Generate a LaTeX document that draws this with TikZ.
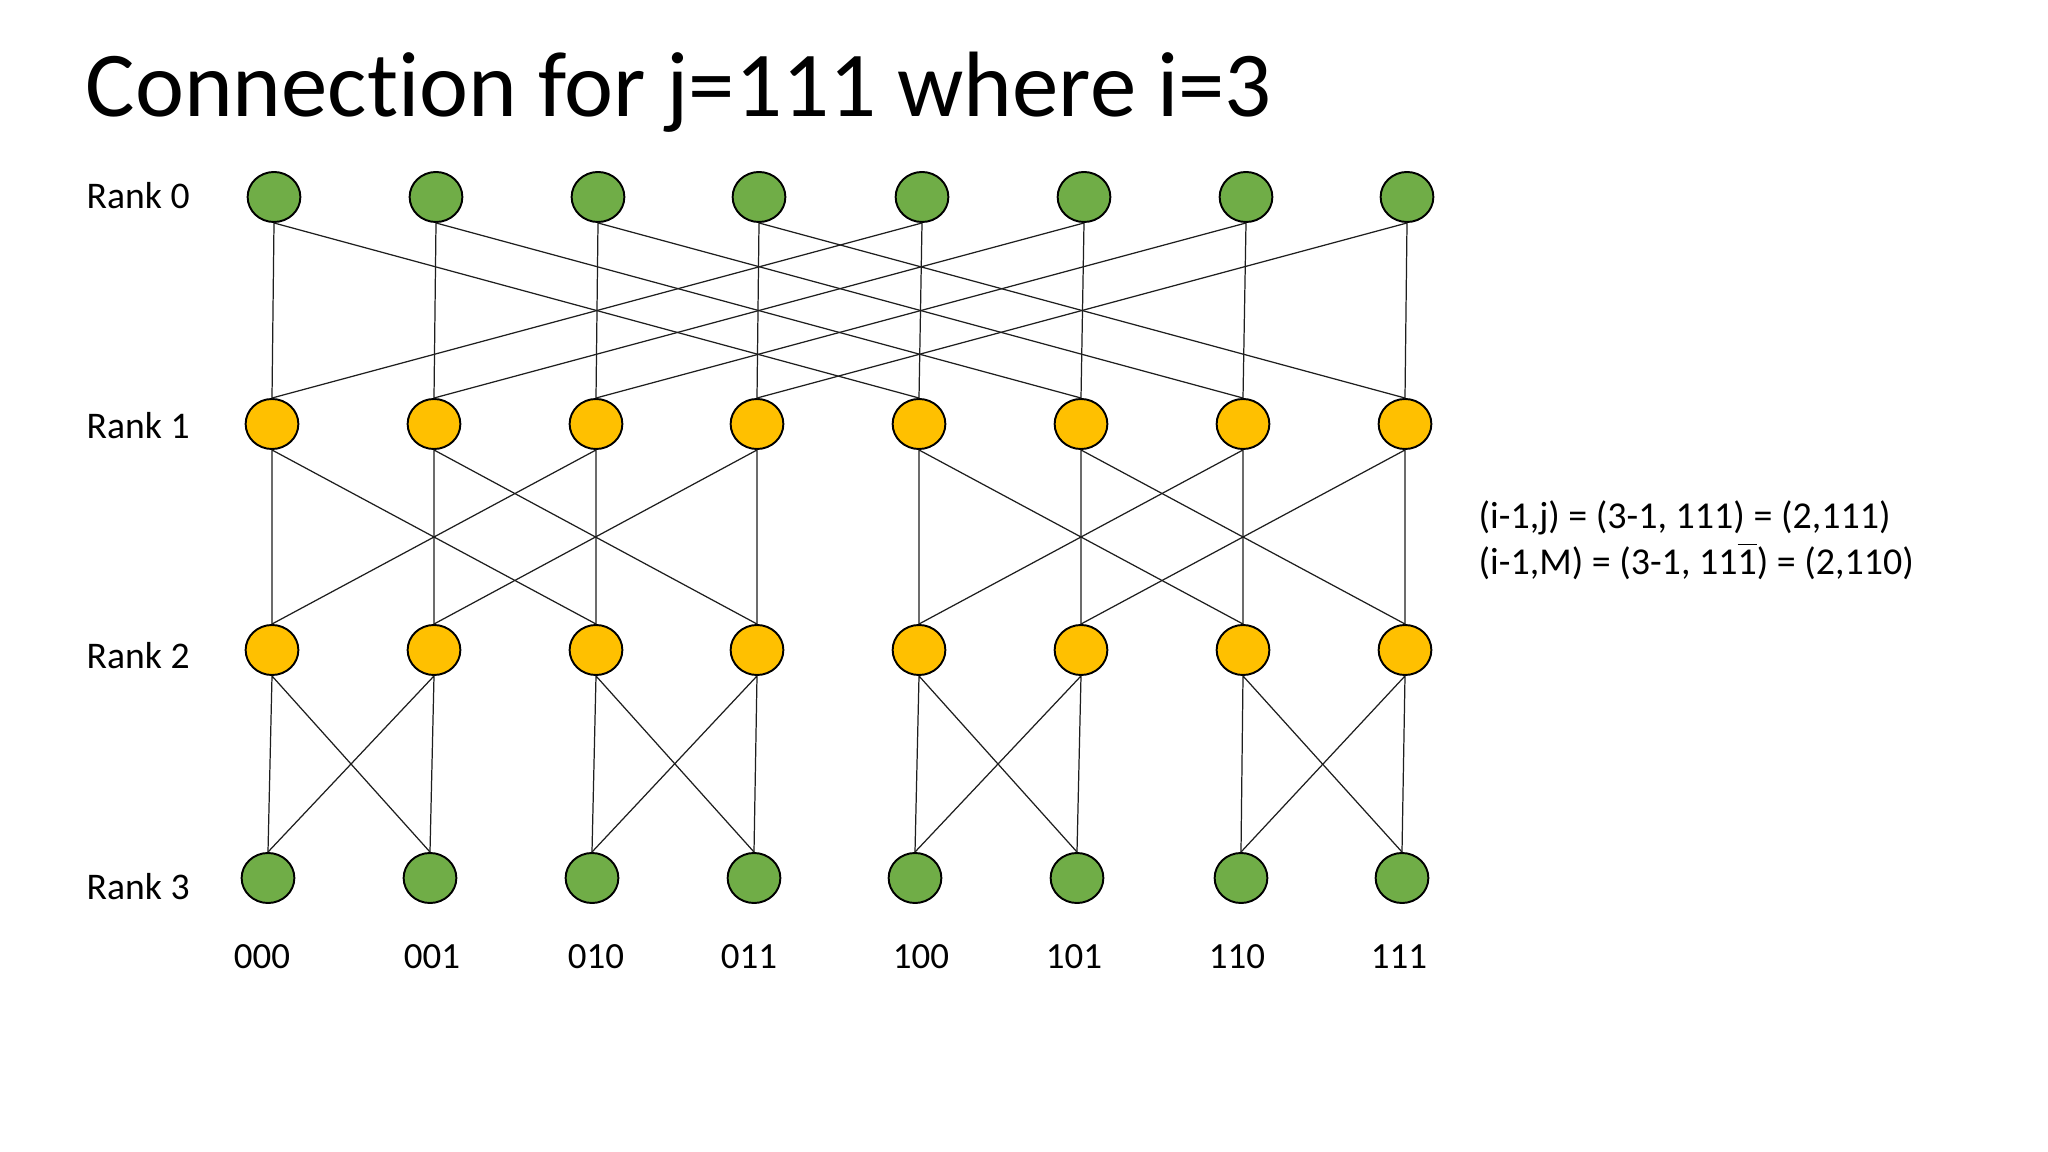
\documentclass[tikz,border=0pt]{standalone}
\usepackage{fontspec}
\setmainfont{Carlito}[Ligatures=NoCommon]
\usetikzlibrary{positioning,shapes.geometric}
\definecolor{rankgreen}{RGB}{112,173,71}
\definecolor{rankgold}{RGB}{255,192,0}
\definecolor{linkgray}{RGB}{30,30,30}
\tikzset{
  procnode/.style={ellipse,draw=black,line width=0.55pt,
    minimum width=0.527cm,minimum height=0.50cm,inner sep=0pt},
  greennode/.style={procnode,fill=rankgreen},
  goldnode/.style={procnode,fill=rankgold},
  link/.style={linkgray,line width=0.35pt},
  ranklabel/.style={anchor=base west,inner sep=0pt,font=\fontsize{10.7}{12}\selectfont},
  binlabel/.style={anchor=base,inner sep=0pt,font=\fontsize{10.5}{12}\selectfont},
  eqlabel/.style={anchor=base west,inner sep=0pt,font=\fontsize{10.8}{12}\selectfont}
}

\begin{document}
\begin{tikzpicture}[x=0.01cm,y=-0.01cm]
        \fill[white] (0,0) rectangle (2048,1152);
        \useasboundingbox (0,0) rectangle (2048,1152);

        \node[anchor=base west,inner sep=0pt,font=\fontsize{26.4}{30}\selectfont]
          (title) at (85,117) {Connection for j=111 where i=3};

        % ranks
        \node[ranklabel] (lab0) at (86,209) {Rank 0};
        \node[ranklabel] (lab1) at (86,439) {Rank 1};
        \node[ranklabel] (lab2) at (86,669) {Rank 2};
        \node[ranklabel] (lab3) at (86,899) {Rank 3};

        \foreach \x [count=\k from 0] in {274,436,598,759,922,1084,1246,1407}
          \node[greennode] (r0-\k) at (\x,197) {};
        \foreach \x [count=\k from 0] in {272,434,596,757,919,1081,1243,1405}
          \node[goldnode] (r1-\k) at (\x,424) {};
        \foreach \x [count=\k from 0] in {272,434,596,757,919,1081,1243,1405}
          \node[goldnode] (r2-\k) at (\x,650) {};
        \foreach \x [count=\k from 0] in {268,430,592,754,915,1077,1241,1402}
          \node[greennode] (r3-\k) at (\x,878) {};

        % butterfly links
        \foreach \k/\m in {0/4,1/5,2/6,3/7,4/0,5/1,6/2,7/3}
          \draw[link] (r0-\k.south) -- (r1-\k.north) (r0-\k.south) -- (r1-\m.north);
        \foreach \k/\m in {0/2,1/3,2/0,3/1,4/6,5/7,6/4,7/5}
          \draw[link] (r1-\k.south) -- (r2-\k.north) (r1-\k.south) -- (r2-\m.north);
        \foreach \k/\m in {0/1,1/0,2/3,3/2,4/5,5/4,6/7,7/6}
          \draw[link] (r2-\k.south) -- (r3-\k.north) (r2-\k.south) -- (r3-\m.north);

        % addresses
        \foreach \x/\b in {262/000,432/001,596/010,749/011,921/100,1074/101,1237/110,1399/111}
          \node[binlabel] (bin-\b) at (\x,968) {\b};

        \node[eqlabel] (eqj) at (1478,528) {(i-1,j) = (3-1, 111) = (2,111)};
        \node[eqlabel] (eqm) at (1478,574)
          {(i-1,M) = (3-1, 11$\overline{\mbox{1}}$) = (2,110)};
      \end{tikzpicture}
\end{document}
